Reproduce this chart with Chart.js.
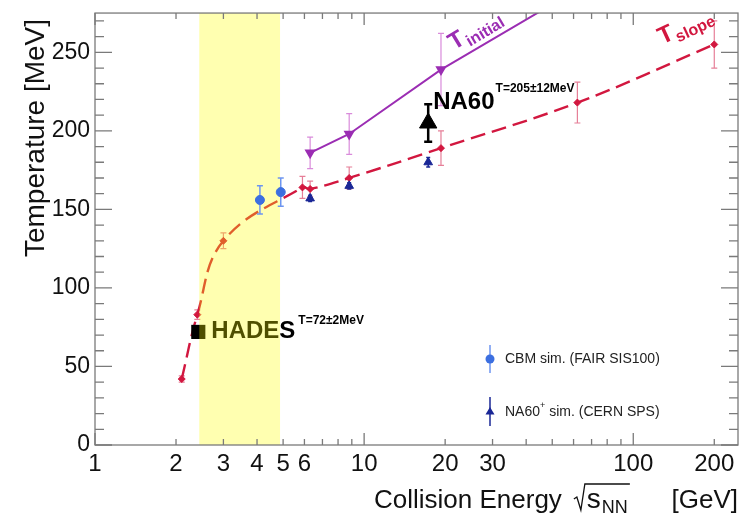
<!DOCTYPE html>
<html><head><meta charset="utf-8">
<script src="https://cdn.jsdelivr.net/npm/chart.js@4.4.1/dist/chart.umd.min.js"></script>
<style>html,body{margin:0;padding:0;background:#fff}#wrap{width:751px;height:516px}</style>
</head><body><div id="wrap"><canvas id="c" width="751" height="516"></canvas></div>
<script>
// ---- data ----
const slopeE   = [2.1, 2.4, 3.0, 5.9, 6.3, 8.8, 19.3, 62, 200];
const slopeT   = [42, 83, 130, 164, 163, 170, 189, 218, 255];
const slopeErr = [2, 3, 5, 7, 5, 7, 11, 13, 15];

const initE   = [6.3, 8.8, 19.3, 62];
const initT   = [186, 198, 239, 290];
const initErr = [10, 13, 23, 0];

const cbmE   = [4.1, 4.9];
const cbmT   = [156, 161];
const cbmErr = [9, 9];

const na60pE   = [6.3, 8.8, 17.3];
const na60pT   = [157, 165, 180];
const na60pErr = [2, 2, 3];

const na60E   = [17.3];
const na60T   = [205];
const na60Err = [12];

const hadesE = [2.42];
const hadesT = [72];

const bandRange = [2.44, 4.87];
const xTickVals = [1, 2, 3, 4, 5, 6, 10, 20, 30, 100, 200];
const yTickVals = [0, 50, 100, 150, 200, 250];
const xRange = [1, 245];
const yRange = [0, 275];

// ---- styling ----
const FONT = '"Liberation Sans", Arial, Helvetica, sans-serif';
const C_RED = '#D2173F', C_RED_ERR = '#E67F98';
const C_PUR = '#9B2DB3', C_PUR_ERR = '#D98BDB';
const C_CBM = '#3C6FE0', C_CBM_ERR = '#6D95F0';
const C_NA = '#1A2796';

function pts(xs, ys) { return xs.map((x, i) => ({x, y: ys[i]})); }

const errSets = [
  {xs: slopeE, ys: slopeT, es: slopeErr, color: C_RED_ERR, w: 1.2, cap: 3},
  {xs: initE, ys: initT, es: initErr, color: C_PUR_ERR, w: 1.2, cap: 3},
  {xs: na60pE, ys: na60pT, es: na60pErr, color: C_NA, w: 1.5, cap: 2},
  {xs: na60E, ys: na60T, es: na60Err, color: '#000', w: 2.5, cap: 4}
];
const cbmErrSet = {xs: cbmE, ys: cbmT, es: cbmErr, color: C_CBM_ERR, w: 1.5, cap: 3};

function drawErrSet(chart, s) {
  const {ctx, chartArea: a, scales: {x, y}} = chart;
  ctx.save();
  ctx.beginPath(); ctx.rect(a.left, a.top, a.right - a.left, a.bottom - a.top); ctx.clip();
  ctx.strokeStyle = s.color; ctx.lineWidth = s.w;
  s.xs.forEach((e, i) => {
    if (!s.es[i]) return;
    const px = x.getPixelForValue(e);
    const p1 = y.getPixelForValue(s.ys[i] - s.es[i]);
    const p2 = y.getPixelForValue(s.ys[i] + s.es[i]);
    ctx.beginPath();
    ctx.moveTo(px, p1); ctx.lineTo(px, p2);
    ctx.moveTo(px - s.cap, p1); ctx.lineTo(px + s.cap, p1);
    ctx.moveTo(px - s.cap, p2); ctx.lineTo(px + s.cap, p2);
    ctx.stroke();
  });
  ctx.restore();
}

function rotLabel(ctx, ax, ay, theta, color, sub) {
  ctx.save();
  ctx.translate(ax, ay);
  ctx.rotate(-theta * Math.PI / 180);
  ctx.fillStyle = color;
  ctx.textAlign = 'left'; ctx.textBaseline = 'alphabetic';
  ctx.font = 'bold 24px ' + FONT;
  ctx.fillText('T', 0, 0);
  const tw = ctx.measureText('T').width;
  ctx.font = 'bold 16px ' + FONT;
  ctx.fillText(sub, tw + 1, 5);
  ctx.restore();
}

const deco = {
  id: 'deco',
  beforeDatasetsDraw(chart) {
    errSets.forEach(s => drawErrSet(chart, s));
  },
  afterDatasetDraw(chart, args) {
    const {ctx, chartArea: a, scales: {x, y}} = chart;
    if (args.index !== 1) return; // after HADES marker: label + band
    ctx.save();
    ctx.textAlign = 'left'; ctx.textBaseline = 'alphabetic';
    const hx = x.getPixelForValue(hadesE[0]), hy = y.getPixelForValue(hadesT[0]);
    ctx.fillStyle = '#000';
    ctx.font = 'bold 24px ' + FONT;
    ctx.fillText('HADES', hx + 13, hy + 6);
    const hw = ctx.measureText('HADES').width;
    ctx.font = 'bold 12px ' + FONT;
    ctx.fillText('T=72\u00B12MeV', hx + 13 + hw + 3, hy - 8);
    const b1 = x.getPixelForValue(bandRange[0]), b2 = x.getPixelForValue(bandRange[1]);
    ctx.fillStyle = 'rgba(255,255,0,0.31)';
    ctx.fillRect(b1, a.top, b2 - b1, a.bottom - a.top);
    ctx.restore();
    drawErrSet(chart, cbmErrSet);
  },
  afterDatasetsDraw(chart) {
    const {ctx, chartArea: a, scales: {x, y}} = chart;
    ctx.save();
    ctx.textAlign = 'left'; ctx.textBaseline = 'alphabetic';

    // NA60 label
    const nx = x.getPixelForValue(na60E[0]), ny = y.getPixelForValue(na60T[0]);
    ctx.fillStyle = '#000';
    ctx.font = 'bold 24px ' + FONT;
    ctx.fillText('NA60', nx + 5, ny - 14);
    const nw = ctx.measureText('NA60').width;
    ctx.font = 'bold 12px ' + FONT;
    ctx.fillText('T=205\u00B112MeV', nx + 5 + nw + 1, ny - 31);

    // curve labels
    const ix = x.getPixelForValue(initE[2]), iy = y.getPixelForValue(initT[2]);
    rotLabel(ctx, ix + 13, iy - 19, 31, C_PUR, 'initial');
    const sx = x.getPixelForValue(slopeE[slopeE.length - 1]), sy = y.getPixelForValue(slopeT[slopeT.length - 1]);
    rotLabel(ctx, sx - 52, sy, 25, C_RED, 'slope');

    // legend
    ctx.lineWidth = 1.5;
    ctx.strokeStyle = C_CBM_ERR;
    ctx.beginPath(); ctx.moveTo(490, 345); ctx.lineTo(490, 373); ctx.stroke();
    ctx.fillStyle = C_CBM;
    ctx.beginPath(); ctx.arc(490, 359, 4.5, 0, Math.PI * 2); ctx.fill();
    ctx.strokeStyle = C_NA;
    ctx.beginPath(); ctx.moveTo(490, 397); ctx.lineTo(490, 426); ctx.stroke();
    ctx.fillStyle = C_NA;
    ctx.beginPath(); ctx.moveTo(490, 407); ctx.lineTo(494.5, 414.5); ctx.lineTo(485.5, 414.5); ctx.closePath(); ctx.fill();
    ctx.fillStyle = '#222';
    ctx.textBaseline = 'middle';
    ctx.font = '14px ' + FONT;
    ctx.fillText('CBM sim. (FAIR SIS100)', 505, 359);
    ctx.fillText('NA60', 505, 412);
    let lw = ctx.measureText('NA60').width;
    ctx.font = '9px ' + FONT;
    ctx.fillText('+', 505 + lw, 406);
    lw += ctx.measureText('+').width;
    ctx.font = '14px ' + FONT;
    ctx.fillText(' sim. (CERN SPS)', 505 + lw, 412);

    // frame and inner ticks
    ctx.strokeStyle = '#7a7a7a'; ctx.lineWidth = 1.3;
    ctx.strokeRect(a.left, a.top, a.right - a.left, a.bottom - a.top);
    ctx.beginPath();
    [1, 10, 100].forEach(d => {
      for (let m = 1; m <= 9; m++) {
        const v = d * m;
        if (v < x.min || v > x.max) continue;
        const px = x.getPixelForValue(v);
        const len = m === 1 ? 12 : 6;
        ctx.moveTo(px, a.bottom); ctx.lineTo(px, a.bottom - len);
        ctx.moveTo(px, a.top); ctx.lineTo(px, a.top + len);
      }
    });
    for (let v = y.min; v <= y.max; v += 10) {
      const py = y.getPixelForValue(v);
      const len = v % 50 === 0 ? 17 : 9;
      ctx.moveTo(a.left, py); ctx.lineTo(a.left + len, py);
      ctx.moveTo(a.right, py); ctx.lineTo(a.right - len, py);
    }
    ctx.stroke();

    // axis titles
    ctx.fillStyle = '#111';
    ctx.textBaseline = 'alphabetic';
    ctx.save();
    ctx.translate(44, 138); ctx.rotate(-Math.PI / 2);
    ctx.textAlign = 'center';
    ctx.font = '28px ' + FONT;
    ctx.fillText('Temperature [MeV]', 0, 0);
    ctx.restore();

    const base = 508;
    ctx.textAlign = 'left';
    ctx.font = '26px ' + FONT;
    let tx = a.right - 364;
    ctx.fillText('Collision Energy', tx, base);
    tx += ctx.measureText('Collision Energy').width + 12;
    const rx = tx;
    ctx.strokeStyle = '#111'; ctx.lineWidth = 1.3;
    ctx.beginPath();
    ctx.moveTo(rx, base - 9); ctx.lineTo(rx + 3, base - 11);
    ctx.lineTo(rx + 7, base + 2); ctx.lineTo(rx + 11, base - 24);
    tx = rx + 13;
    ctx.font = '28px ' + FONT;
    ctx.fillText('s', tx, base);
    tx += ctx.measureText('s').width + 1;
    ctx.font = '18px ' + FONT;
    ctx.fillText('NN', tx, base + 5);
    tx += ctx.measureText('NN').width;
    ctx.lineTo(tx + 2, base - 24);
    ctx.stroke();
    ctx.font = '26px ' + FONT;
    ctx.textAlign = 'right';
    ctx.fillText('[GeV]', a.right, base);
    ctx.restore();
  }
};

new Chart(document.getElementById('c'), {
  type: 'line',
  data: {
    datasets: [
      {label: 'CBM sim', data: pts(cbmE, cbmT), showLine: false, pointStyle: 'circle', pointRadius: 4.5, backgroundColor: C_CBM, borderColor: C_CBM},
      {label: 'HADES', data: pts(hadesE, hadesT), showLine: false, pointStyle: 'rect', pointRadius: 10, backgroundColor: '#000', borderColor: '#000', pointBorderWidth: 0},
      {label: 'NA60', data: pts(na60E, na60T), showLine: false, pointStyle: 'triangle', pointRadius: 10, backgroundColor: '#000', borderColor: '#000'},
      {label: 'NA60+ sim', data: pts(na60pE, na60pT), showLine: false, pointStyle: 'triangle', pointRadius: 5, backgroundColor: C_NA, borderColor: C_NA},
      {label: 'T initial', data: pts(initE, initT), borderColor: C_PUR, borderWidth: 2, pointStyle: 'triangle', pointRotation: 180, pointRadius: [4.5, 4.5, 4.5, 0], backgroundColor: C_PUR, tension: 0},
      {label: 'T slope', data: pts(slopeE, slopeT), borderColor: C_RED, borderWidth: 2.4, borderDash: [15, 7], pointStyle: 'rectRot', pointRadius: 3.5, pointBorderWidth: 1, backgroundColor: C_RED, tension: 0.4}
    ]
  },
  options: {
    responsive: false, animation: false, events: [],
    layout: {padding: {top: 9, right: 13, left: 0, bottom: 0}},
    plugins: {legend: {display: false}, tooltip: {enabled: false}},
    scales: {
      x: {
        type: 'logarithmic', min: xRange[0], max: xRange[1],
        afterBuildTicks(s) { s.ticks = xTickVals.map(v => ({value: v})); },
        afterFit(s) { s.height = 71; },
        grid: {display: false, drawTicks: false}, border: {display: false},
        ticks: {autoSkip: false, maxRotation: 0, padding: 5, color: '#111', font: {family: FONT, size: 24},
          callback: v => String(v)}
      },
      y: {
        type: 'linear', min: yRange[0], max: yRange[1],
        afterBuildTicks(s) { s.ticks = yTickVals.map(v => ({value: v})); },
        afterFit(s) { s.width = 95; },
        grid: {display: false, drawTicks: false}, border: {display: false},
        ticks: {padding: 5, color: '#111', font: {family: FONT, size: 23, lineHeight: 0.7}}
      }
    }
  },
  plugins: [deco]
});
</script>
</body></html>
